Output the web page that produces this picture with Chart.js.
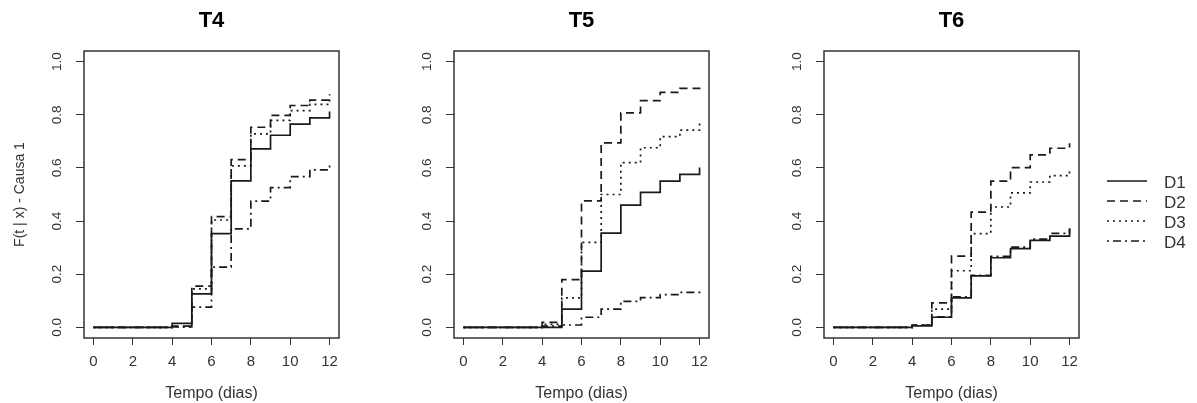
<!DOCTYPE html>
<html><head><meta charset="utf-8">
<script src="https://cdn.jsdelivr.net/npm/chart.js@4/dist/chart.umd.min.js"></script>
<style>
html,body{margin:0;padding:0;background:#fff;width:1197px;height:403px;overflow:hidden;position:relative;}
canvas{position:absolute;top:0;}
#legend{position:absolute;left:1100px;top:0;width:97px;height:403px;font-family:"Liberation Sans",Arial,sans-serif;font-size:17px;color:#333;}
#legend .lab{position:absolute;left:64px;line-height:20px;height:20px;}
#legend svg{position:absolute;left:0;top:0;}
</style></head><body>
<canvas id="c0" width="370" height="403" style="left:0px"></canvas>
<canvas id="c1" width="370" height="403" style="left:370px"></canvas>
<canvas id="c2" width="370" height="403" style="left:740px"></canvas>
<div id="legend"></div>
<script>
// ---- data ----
const times = [0, 4, 5, 6, 7, 8, 9, 10, 11, 12];
const xTicks = [0, 2, 4, 6, 8, 10, 12];
const yTicks = [0, 0.2, 0.4, 0.6, 0.8, 1.0];
const yTickLabels = ['0.0', '0.2', '0.4', '0.6', '0.8', '1.0'];
const panelTitles = ['T4', 'T5', 'T6'];
const seriesNames = ['D1', 'D2', 'D3', 'D4'];
const xTitle = 'Tempo (dias)';
const yTitle = 'F(t | x) - Causa 1';

const t4_D1 = [0, 0.015, 0.126, 0.353, 0.551, 0.672, 0.723, 0.765, 0.788, 0.812];
const t4_D2 = [0, 0.005, 0.155, 0.417, 0.631, 0.753, 0.798, 0.835, 0.855, 0.877];
const t4_D3 = [0, 0.003, 0.145, 0.404, 0.608, 0.728, 0.779, 0.816, 0.839, 0.860];
const t4_D4 = [0, 0.002, 0.076, 0.227, 0.371, 0.475, 0.526, 0.567, 0.593, 0.622];

const t5_D1 = [0, 0.000, 0.069, 0.212, 0.355, 0.460, 0.508, 0.550, 0.576, 0.602];
const t5_D2 = [0, 0.019, 0.180, 0.476, 0.694, 0.807, 0.853, 0.884, 0.899, 0.916];
const t5_D3 = [0, 0.011, 0.111, 0.320, 0.500, 0.620, 0.676, 0.718, 0.742, 0.768];
const t5_D4 = [0, 0.005, 0.009, 0.038, 0.069, 0.098, 0.112, 0.123, 0.132, 0.136];

const t6_D1 = [0, 0.006, 0.038, 0.111, 0.194, 0.262, 0.296, 0.327, 0.343, 0.372];
const t6_D2 = [0, 0.009, 0.092, 0.268, 0.434, 0.550, 0.601, 0.649, 0.674, 0.693];
const t6_D3 = [0, 0.008, 0.069, 0.213, 0.353, 0.453, 0.506, 0.547, 0.571, 0.588];
const t6_D4 = [0, 0.008, 0.040, 0.115, 0.196, 0.267, 0.302, 0.332, 0.354, 0.372];

const panels = [
  [t4_D1, t4_D2, t4_D3, t4_D4],
  [t5_D1, t5_D2, t5_D3, t5_D4],
  [t6_D1, t6_D2, t6_D3, t6_D4]
];

// ---- styles ----
const FONT = '"Liberation Sans", Arial, Helvetica, sans-serif';
const LINE_COLOR = '#1a1a1a';
const TEXT_COLOR = '#333';
const dashes = [[], [8, 5], [2, 4], [2, 4, 8, 4]];

const boxPlugin = {
  id: 'boxAndLabels',
  afterDraw(chart) {
    const {ctx, chartArea: a, scales} = chart;
    const y = scales.y;
    ctx.save();
    ctx.strokeStyle = '#333';
    ctx.lineWidth = 1.5;
    ctx.setLineDash([]);
    ctx.strokeRect(a.left, a.top, a.right - a.left, a.bottom - a.top);
    // y tick labels (rotated, R style)
    ctx.font = '13.5px ' + FONT;
    ctx.fillStyle = TEXT_COLOR;
    ctx.textAlign = 'center';
    ctx.textBaseline = 'middle';
    yTicks.forEach((v, i) => {
      const py = y.getPixelForValue(v);
      ctx.save();
      ctx.translate(57, py);
      ctx.rotate(-Math.PI / 2);
      ctx.fillText(yTickLabels[i], 0, 0);
      ctx.restore();
    });
    // panel title
    ctx.font = 'bold 22px ' + FONT;
    ctx.fillStyle = '#000';
    ctx.fillText(chart.options.panelTitle, (a.left + a.right) / 2, 21);
    ctx.restore();
  }
};

panels.forEach((series, pi) => {
  const datasets = series.map((vals, si) => ({
    label: seriesNames[si],
    data: times.map((t, k) => ({x: t, y: vals[k]})),
    stepped: 'before',
    borderColor: LINE_COLOR,
    borderWidth: 1.7,
    borderDash: dashes[si],
    pointRadius: 0,
    fill: false,
    tension: 0
  }));
  new Chart(document.getElementById('c' + pi), {
    type: 'line',
    data: {datasets},
    plugins: [boxPlugin],
    options: {
      panelTitle: panelTitles[pi],
      responsive: false,
      animation: false,
      events: [],
      layout: {padding: {left: 0, right: 31, top: 51, bottom: 0}},
      plugins: {
        legend: {display: false},
        tooltip: {enabled: false},
        title: {display: false}
      },
      scales: {
        x: {
          type: 'linear',
          min: -0.48,
          max: 12.48,
          afterBuildTicks: s => { s.ticks = xTicks.map(v => ({value: v})); },
          afterFit: s => { s.height = 65; },
          border: {display: false},
          grid: {display: true, drawOnChartArea: false, drawTicks: true, tickLength: 7, color: '#333', lineWidth: 1},
          ticks: {color: TEXT_COLOR, font: {family: FONT, size: 15}, padding: 8, maxRotation: 0, minRotation: 0,
                  callback: v => String(v)},
          title: {display: true, text: xTitle, color: TEXT_COLOR, font: {family: FONT, size: 16, lineHeight: 1.2},
                  padding: {top: 0, bottom: 0}}
        },
        y: {
          type: 'linear',
          min: -0.04,
          max: 1.04,
          afterBuildTicks: s => { s.ticks = yTicks.map(v => ({value: v})); },
          afterFit: s => { s.width = 84; },
          border: {display: false},
          grid: {display: true, drawOnChartArea: false, drawTicks: true, tickLength: 8, color: '#333', lineWidth: 1},
          ticks: {display: false},
          title: {display: pi === 0, text: yTitle, color: TEXT_COLOR, font: {family: FONT, size: 14, lineHeight: 1.2},
                  padding: {top: 12, bottom: 0}}
        }
      }
    }
  });
});

// ---- legend ----
const legend = document.getElementById('legend');
const legendY = [181, 201, 221, 241];
let svg = '<svg width="97" height="403">';
seriesNames.forEach((n, i) => {
  svg += '<line x1="7" x2="47" y1="' + legendY[i] + '" y2="' + legendY[i] + '" stroke="' + LINE_COLOR +
         '" stroke-width="1.6" stroke-dasharray="' + (dashes[i].length ? dashes[i].join(',') : 'none') + '"/>';
});
svg += '</svg>';
legend.innerHTML = svg + seriesNames.map((n, i) =>
  '<div class="lab" style="top:' + (legendY[i] - 8) + 'px">' + n + '</div>').join('');
</script>
</body></html>
